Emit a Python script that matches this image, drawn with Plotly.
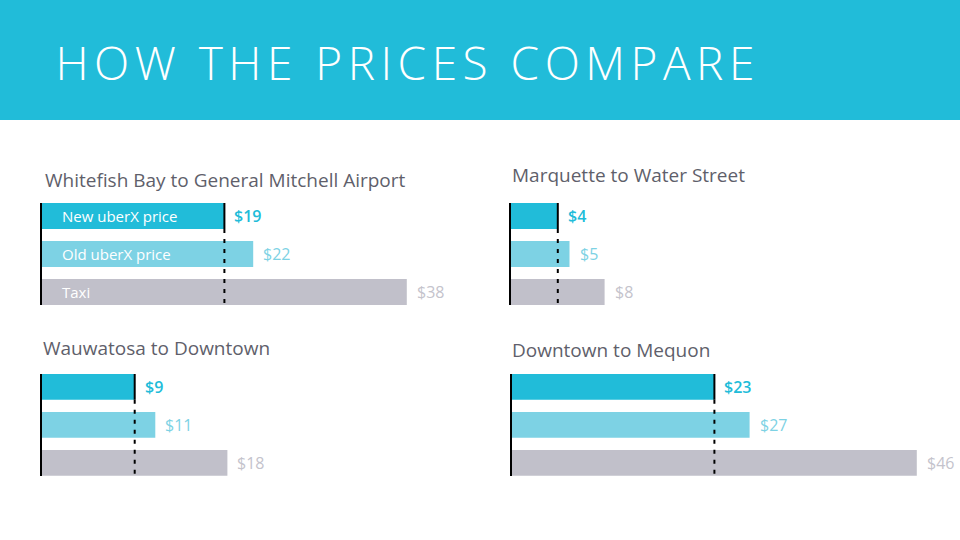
import plotly.graph_objects as go

W, H = 960, 540

# data
fares = ["New uberX price", "Old uberX price", "Taxi"]
routes = ["Whitefish Bay to General Mitchell Airport", "Marquette to Water Street",
          "Wauwatosa to Downtown", "Downtown to Mequon"]
new_price = [19, 4, 9, 23]
old_price = [22, 5, 11, 27]
taxi_price = [38, 8, 18, 46]

bar_colors = ["#21BCD9", "#7DD2E4", "#C1C0CA"]
label_colors = ["#21BCD9", "#7DD2E4", "#C4C3CC"]
label_weights = [600, 500, 400]
grey_txt = "#5F5F6B"

# panel geometry in pixels: x of axis, px per dollar, x range max, y top of domain
panels = [
    dict(x0=42, scale=9.6, xmax=40, top=202.7),
    dict(x0=511, scale=11.7, xmax=10, top=202.7),
    dict(x0=42, scale=10.3, xmax=20, top=373.5),
    dict(x0=512, scale=8.8, xmax=48, top=373.5),
]
title_pos = [(43, 180), (510, 175), (41, 348), (510, 350)]
step = 38  # px per category

fig = go.Figure()
annotations = []
shapes = []

for i, p in enumerate(panels):
    n = "" if i == 0 else str(i + 1)
    xa, ya = "x" + n, "y" + n
    vals = [new_price[i], old_price[i], taxi_price[i]]
    fig.add_trace(go.Bar(
        x=vals, y=fares, orientation="h", xaxis=xa, yaxis=ya,
        marker=dict(color=bar_colors, line=dict(width=0)),
        hoverinfo="skip", showlegend=False,
    ))
    dom_h = 2.7 * step
    fig.update_layout(**{
        "xaxis" + n: dict(domain=[p["x0"] / W, (p["x0"] + p["xmax"] * p["scale"]) / W],
                          range=[0, p["xmax"]], visible=False, anchor=ya, fixedrange=True),
        "yaxis" + n: dict(domain=[1 - (p["top"] + dom_h) / H, 1 - p["top"] / H],
                          range=[2.35, -0.35], anchor=xa, showticklabels=False,
                          showgrid=False, zeroline=False, showline=True, fixedrange=True,
                          linecolor="black", linewidth=2, ticks=""),
    })
    for j, v in enumerate(vals):
        annotations.append(dict(
            x=v, y=fares[j], xref=xa, yref=ya, text="$" + str(v),
            xanchor="left", xshift=8, showarrow=False,
            font=dict(family="Open Sans", size=16, color=label_colors[j], weight=label_weights[j]),
        ))
    # reference line at the new uberX price
    shapes.append(dict(type="line", xref=xa, yref=ya, x0=new_price[i], x1=new_price[i],
                       y0=-0.34, y1=0.34, line=dict(color="black", width=2)))
    shapes.append(dict(type="line", xref=xa, yref=ya, x0=new_price[i], x1=new_price[i],
                       y0=0.34, y1=2.42, line=dict(color="black", width=2, dash="4px,6px")))
    tx, ty = title_pos[i]
    annotations.append(dict(
        x=tx / W, y=1 - ty / H, xref="paper", yref="paper", text=routes[i],
        xanchor="left", yanchor="middle", showarrow=False,
        font=dict(family="Open Sans", size=19, color=grey_txt, weight=500),
    ))

# fare names inside the first panel's bars
for j, f in enumerate(fares):
    annotations.append(dict(
        x=0, y=f, xref="x", yref="y", text=f, xanchor="left", xshift=18,
        showarrow=False, font=dict(family="Open Sans", size=15, color="white", weight=500),
    ))

# banner
shapes.append(dict(type="rect", xref="paper", yref="paper", x0=0, x1=1,
                   y0=1 - 120 / H, y1=1, fillcolor="#21BCD9", line=dict(width=0), layer="below"))
# centred on the original headline so the added letter spacing grows both ways
annotations.append(dict(
    x=407 / W, y=1 - 62 / H, xref="paper", yref="paper", text="HOW THE PRICES COMPARE",
    xanchor="center", yanchor="middle", showarrow=False,
    font=dict(family="Open Sans", size=46, color="white", weight=300),
))

fig.update_layout(
    width=W, height=H,
    margin=dict(l=0, r=0, t=0, b=0),
    paper_bgcolor="white", plot_bgcolor="rgba(0,0,0,0)",
    bargap=0.32,
    annotations=annotations, shapes=shapes,
)

# no page margin, and wider letter spacing on the headline like the original
js = """
document.body.style.margin = '0';
document.querySelectorAll('.annotation-text').forEach(function (t) {
    if (t.textContent === 'HOW THE PRICES COMPARE') { t.setAttribute('letter-spacing', '5.5px'); }
});
"""
fig.write_html("out.html", post_script=js, config={"displayModeBar": False})
